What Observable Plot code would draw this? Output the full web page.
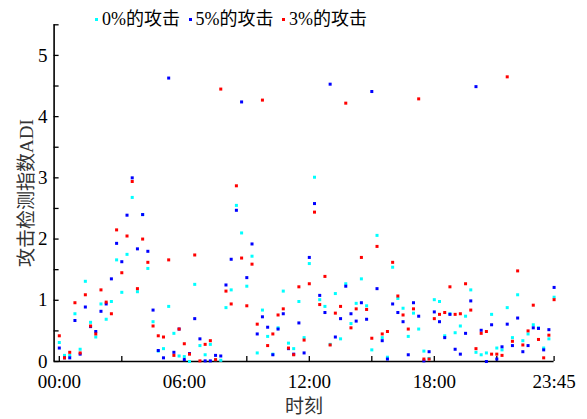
<!DOCTYPE html>
<html><head><meta charset="utf-8">
<script src="https://cdn.jsdelivr.net/npm/d3@7"></script>
<script src="https://cdn.jsdelivr.net/npm/@observablehq/plot@0.6"></script>
<style>
body{margin:0;background:#fff;}
#wrap{position:relative;width:587px;height:419px;font-family:"Liberation Serif","Noto Sans CJK SC",serif;}
#legend{position:absolute;left:0;top:0;width:587px;height:40px;font-size:18px;line-height:22px;color:#000;}
#legend .item{position:absolute;top:8px;display:flex;align-items:center;white-space:nowrap;}
#legend .sw{width:3px;height:3px;margin-right:4px;}
#chart{position:absolute;left:0;top:0;}
</style></head><body>
<div id="wrap"><div id="chart"></div><div id="legend"></div></div>
<script>
// ---- data (one value every 15 minutes, 00:00 .. 23:45) ----
const seriesNames = ["0%的攻击", "5%的攻击", "3%的攻击"];
const seriesColors = ["#00ffff", "#0000ff", "#ff0000"];

const attack0 = [0.31,0.10,0.10,0.78,0.20,1.31,0.64,0.40,0.94,0.69,0.98,1.66,1.13,1.75,2.68,1.14,2.40,1.52,0.65,0.17,
0.21,0.90,0.46,0.09,0.08,0.00,1.26,0.26,0.11,0.28,0.03,0.02,0.88,1.17,2.55,2.10,1.23,1.72,0.14,0.84,
0.41,0.12,0.55,1.15,0.30,0.21,0.98,0.39,1.60,3.01,1.01,0.90,0.28,1.11,0.37,1.27,0.62,0.95,1.35,0.91,
0.19,2.06,0.39,0.07,1.54,1.03,0.87,0.41,0.79,0.53,0.17,0.05,1.01,0.98,0.42,0.78,0.47,0.58,0.74,1.17,
0.15,0.11,0.14,0.77,0.22,0.19,0.88,0.39,1.09,0.34,0.45,0.60,0.55,0.22,0.37,1.05];

const attack5 = [0.22,0.06,0.06,0.67,0.12,0.89,0.57,0.49,0.82,0.94,1.35,1.93,1.63,2.39,3.00,1.84,2.40,1.80,0.84,0.18,
0.06,4.63,0.15,0.53,0.03,0.13,0.70,0.37,0.01,0.01,0.10,0.09,1.25,1.67,2.47,4.24,1.37,1.92,0.45,0.73,
0.56,0.11,0.53,0.78,0.21,0.12,0.63,0.14,1.70,2.58,1.08,0.80,4.53,0.40,0.70,1.23,0.78,0.66,0.96,0.69,
4.41,1.19,0.34,0.04,0.94,0.80,0.65,0.11,0.96,0.74,0.01,0.16,0.81,0.65,0.39,0.77,0.20,0.12,0.46,0.99,
4.49,0.51,0.00,0.60,0.04,0.24,0.61,0.26,0.71,0.16,0.26,0.55,0.54,0.19,0.52,1.21];

const attack3 = [0.42,0.06,0.15,0.96,0.14,1.09,0.58,0.45,1.17,0.97,0.78,2.15,1.45,2.05,2.94,1.19,2.00,1.62,0.58,0.42,
0.40,1.66,0.10,0.53,0.29,0.12,1.74,0.01,0.28,0.34,0.03,4.45,1.15,0.94,2.87,1.69,0.91,1.59,0.61,4.27,
0.26,0.45,0.76,0.86,0.22,0.11,1.22,0.35,1.27,2.44,0.93,1.39,0.27,0.79,0.90,4.22,0.55,0.86,1.70,0.85,
0.38,1.88,0.45,0.49,1.62,1.07,0.76,0.53,0.86,4.29,0.04,0.04,0.70,0.77,0.80,1.22,0.77,0.78,1.27,0.84,
0.21,0.46,0.49,0.12,0.12,0.10,4.65,0.33,1.48,0.27,0.50,0.92,0.36,0.06,0.43,1.01];

// x ticks: sample numbers (1 = 00:00 ... 96 = 23:45)
const xTickPos = [1,13,25,37,49,61,73,85,96];
const xLabelPos = [1,25,49,73,96];
const xLabelText = ["00:00","06:00","12:00","18:00","23:45"];
const yTicks = [0,0.5,1,1.5,2,2.5,3,3.5,4,4.5,5,5.5];

// ---- build table ----
const allSeries = [attack0, attack5, attack3];
const rows = [];
allSeries.forEach((vals, s) => vals.forEach((v, i) => rows.push({t: i + 1, v, s: seriesNames[s]})));

const fontFamily = '"Liberation Serif","Noto Sans CJK SC",serif';
const labelMap = new Map(xLabelPos.map((p, i) => [p, xLabelText[i]]));

const chart = Plot.plot({
  width: 587,
  height: 419,
  marginLeft: 53.6,
  marginRight: 33.4,
  marginTop: 24.3,
  marginBottom: 58,
  style: {fontFamily, fontSize: "19px", color: "#000", background: "transparent"},
  x: {domain: [0, 96]},
  y: {domain: [0, 5.5]},
  color: {domain: seriesNames, range: seriesColors},
  marks: [
    Plot.axisX({ticks: xTickPos, tickFormat: d => labelMap.get(d) ?? "", tickSize: -5, tickPadding: 18, strokeWidth: 1.3, fontSize: 19, label: null}),
    Plot.axisY({ticks: yTicks, tickFormat: d => Number.isInteger(d) ? d : "", tickSize: -5, tickPadding: 11.5, strokeWidth: 1.3, fontSize: 19, label: null}),
    Plot.ruleY([0], {stroke: "#000", strokeWidth: 1.6}),
    Plot.ruleX([0], {stroke: "#000", strokeWidth: 1.6}),
    Plot.dot(rows, {x: "t", y: "v", fill: "s", symbol: "square", r: 1.7, stroke: null}),
    Plot.text(["时刻"], {frameAnchor: "bottom", lineAnchor: "middle", textAnchor: "middle", dy: 45, fontSize: 19, fill: "#333"}),
    Plot.text(["攻击检测指数ADI"], {frameAnchor: "left", lineAnchor: "middle", textAnchor: "middle", dx: -27, rotate: -90, fontSize: 19, fill: "#333"})
  ]
});
document.getElementById("chart").appendChild(chart);

// ---- legend ----
const legend = document.getElementById("legend");
const legendLeft = [95, 188.5, 282];
seriesNames.forEach((name, i) => {
  const item = document.createElement("span");
  item.className = "item";
  item.style.left = legendLeft[i] + "px";
  const sw = document.createElement("span");
  sw.className = "sw";
  sw.style.background = seriesColors[i];
  const tx = document.createElement("span");
  tx.textContent = name;
  item.appendChild(sw); item.appendChild(tx);
  legend.appendChild(item);
});
</script>
</body></html>
